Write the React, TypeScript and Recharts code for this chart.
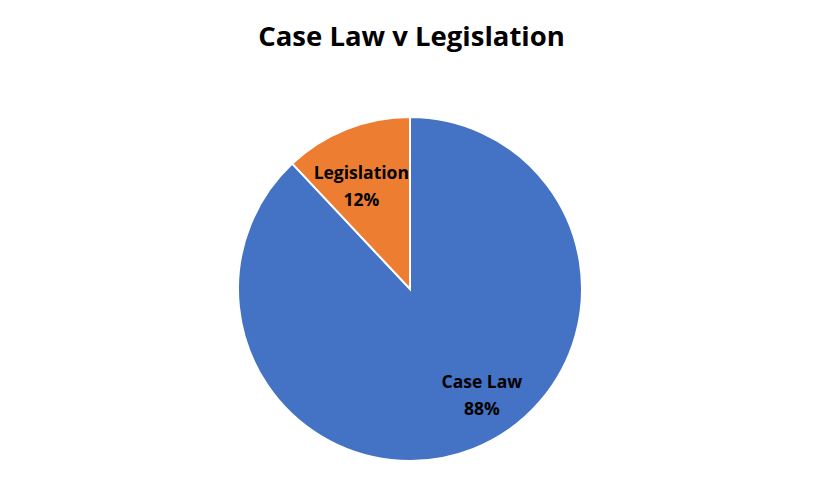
import React from 'react';
import { PieChart, Pie, Cell } from 'recharts';

const categories = ['Case Law', 'Legislation'];
const values = [88, 12];
const colors = ['#4472C4', '#ED7D31'];

const data = categories.map((name, i) => ({ name, value: values[i] }));

const FONT = '"Open Sans", "Noto Sans", sans-serif';

// label placement tweaks (radius fraction, angle offset) to mimic Excel best fit
const labelPlacement: Record<string, { r: number; shift: number }> = {
  'Case Law': { r: 0.74, shift: 12.8 },
  Legislation: { r: 0.67, shift: 3.4 },
};

const renderLabel = (props: any) => {
  const { cx, cy, midAngle, outerRadius, name, percent } = props;
  const place = labelPlacement[name] || { r: 0.6, shift: 0 };
  const ang = ((midAngle + place.shift) * Math.PI) / 180;
  const x = cx + outerRadius * place.r * Math.cos(ang);
  const y = cy - outerRadius * place.r * Math.sin(ang);
  return (
    <text
      x={x}
      y={y}
      textAnchor="middle"
      fill="#000"
      fontFamily={FONT}
      fontWeight={700}
      fontSize={17.5}
    >
      <tspan x={x} dy={-6}>{name}</tspan>
      <tspan x={x} dy={27}>{`${Math.round(percent * 100)}%`}</tspan>
    </text>
  );
};

export default function App() {
  return (
    <div style={{ position: 'absolute', left: 0, top: 0, width: 823, height: 497, background: '#fff' }}>
      <div
        style={{
          position: 'absolute',
          top: 17,
          width: 823,
          textAlign: 'center',
          fontFamily: FONT,
          fontWeight: 700,
          fontSize: 27.5,
          color: '#000',
        }}
      >
        Case Law v Legislation
      </div>
      <PieChart width={823} height={497} margin={{ top: 0, right: 0, bottom: 0, left: 0 }}>
        <Pie
          data={data}
          dataKey="value"
          nameKey="name"
          cx={410}
          cy={289}
          outerRadius={172}
          startAngle={90}
          endAngle={-270}
          stroke="#fff"
          strokeWidth={2}
          label={renderLabel}
          labelLine={false}
          isAnimationActive={false}
        >
          {data.map((d, i) => (
            <Cell key={d.name} fill={colors[i]} />
          ))}
        </Pie>
      </PieChart>
    </div>
  );
}
